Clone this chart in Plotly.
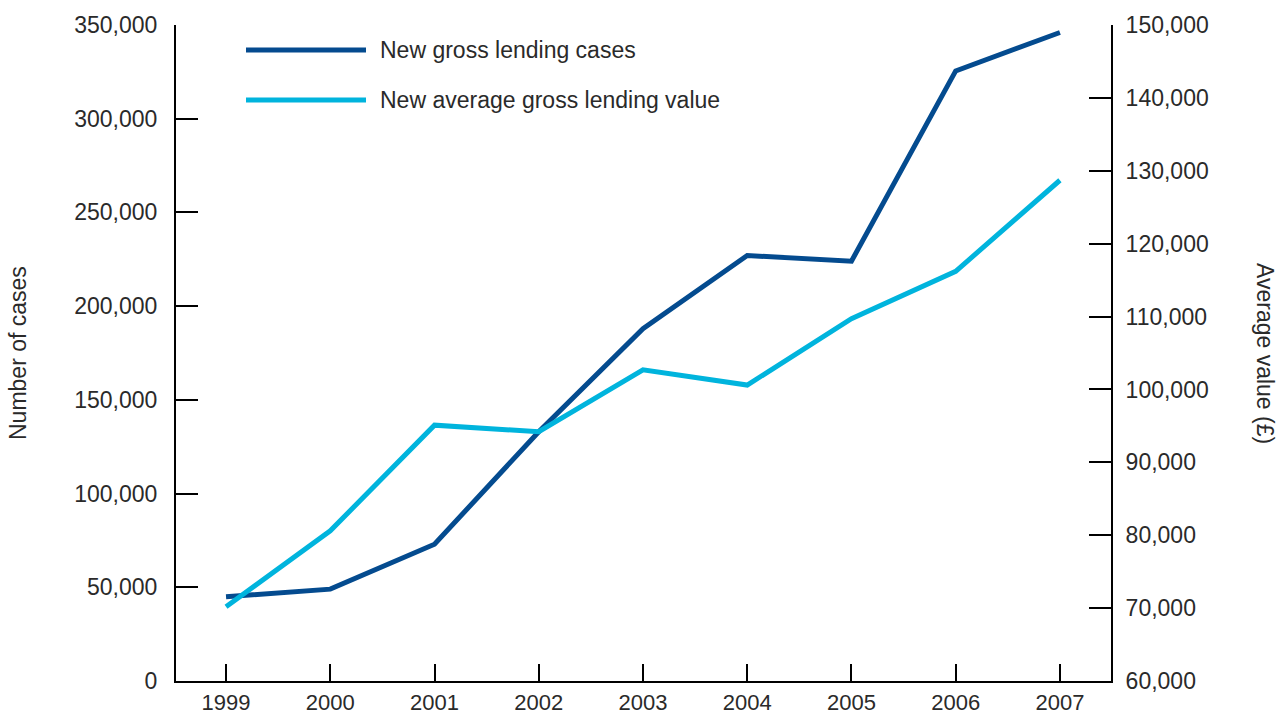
import plotly.graph_objects as go

# data
years = [1999, 2000, 2001, 2002, 2003, 2004, 2005, 2006, 2007]
lending_cases = [45000, 49000, 73000, 133000, 188000, 227000, 224000, 325500, 346000]
avg_value = [70200, 80600, 95100, 94200, 102700, 100600, 109700, 116200, 128700]

left_ticks = [0, 50000, 100000, 150000, 200000, 250000, 300000, 350000]
right_ticks = [60000, 70000, 80000, 90000, 100000, 110000, 120000, 130000, 140000, 150000]

dark_blue = "#044b8f"
light_blue = "#00b4dd"
font = dict(family="Liberation Sans, Arial, sans-serif", size=23, color="#2a2a2a")

fig = go.Figure()
fig.add_trace(go.Scatter(x=years, y=lending_cases, mode="lines", name="New gross lending cases",
                         line=dict(color=dark_blue, width=5)))
fig.add_trace(go.Scatter(x=years, y=avg_value, mode="lines", name="New average gross lending value",
                         line=dict(color=light_blue, width=5), yaxis="y2"))

fig.update_layout(
    width=1280, height=717,
    margin=dict(l=176, r=169, t=25, b=36),
    plot_bgcolor="white", paper_bgcolor="white",
    font=font,
    showlegend=False,
    xaxis=dict(range=[1998.52, 2007.49], tickvals=years, ticks="inside", ticklen=17, tickwidth=2,
               tickcolor="black", showline=True, linecolor="black", linewidth=2,
               tickfont=dict(size=22), showgrid=False, zeroline=False, ticklabelstandoff=1,
               automargin=False),
    yaxis=dict(range=[0, 350000], tickvals=left_ticks, tickformat=",d", ticks="inside",
               ticklen=22, tickwidth=2, tickcolor="black", showline=True, linecolor="black",
               linewidth=2, showgrid=False, zeroline=False, ticklabelstandoff=12, automargin=False),
    yaxis2=dict(range=[60000, 150000], tickvals=right_ticks, tickformat=",d", overlaying="y",
                side="right", ticks="inside", ticklen=22, tickwidth=2, tickcolor="black",
                showline=True, linecolor="black", linewidth=2, showgrid=False, zeroline=False,
                ticklabelstandoff=8, automargin=False),
)

# axis titles
fig.add_annotation(text="Number of cases", xref="paper", yref="paper", x=(18 - 176) / 935, y=0.5,
                   xanchor="center", yanchor="middle", textangle=-90, showarrow=False, font=font)
fig.add_annotation(text="Average value (£)", xref="paper", yref="paper", x=(1265 - 176) / 935, y=0.5,
                   xanchor="center", yanchor="middle", textangle=90, showarrow=False, font=font)

# legend drawn by hand to get the long line samples
legend = [("New gross lending cases", dark_blue, 50), ("New average gross lending value", light_blue, 100)]
for label, color, ypx in legend:
    yp = 1 - (ypx - 25) / 656
    fig.add_shape(type="line", xref="paper", yref="paper", x0=(246 - 176) / 935, x1=(366 - 176) / 935,
                  y0=yp, y1=yp, line=dict(color=color, width=5))
    fig.add_annotation(text=label, xref="paper", yref="paper", x=(378 - 176) / 935, y=yp,
                       xanchor="left", yanchor="middle", showarrow=False, font=font)

fig.write_html("out.html", config={"displayModeBar": False},
               post_script="document.body.style.margin='0';")
